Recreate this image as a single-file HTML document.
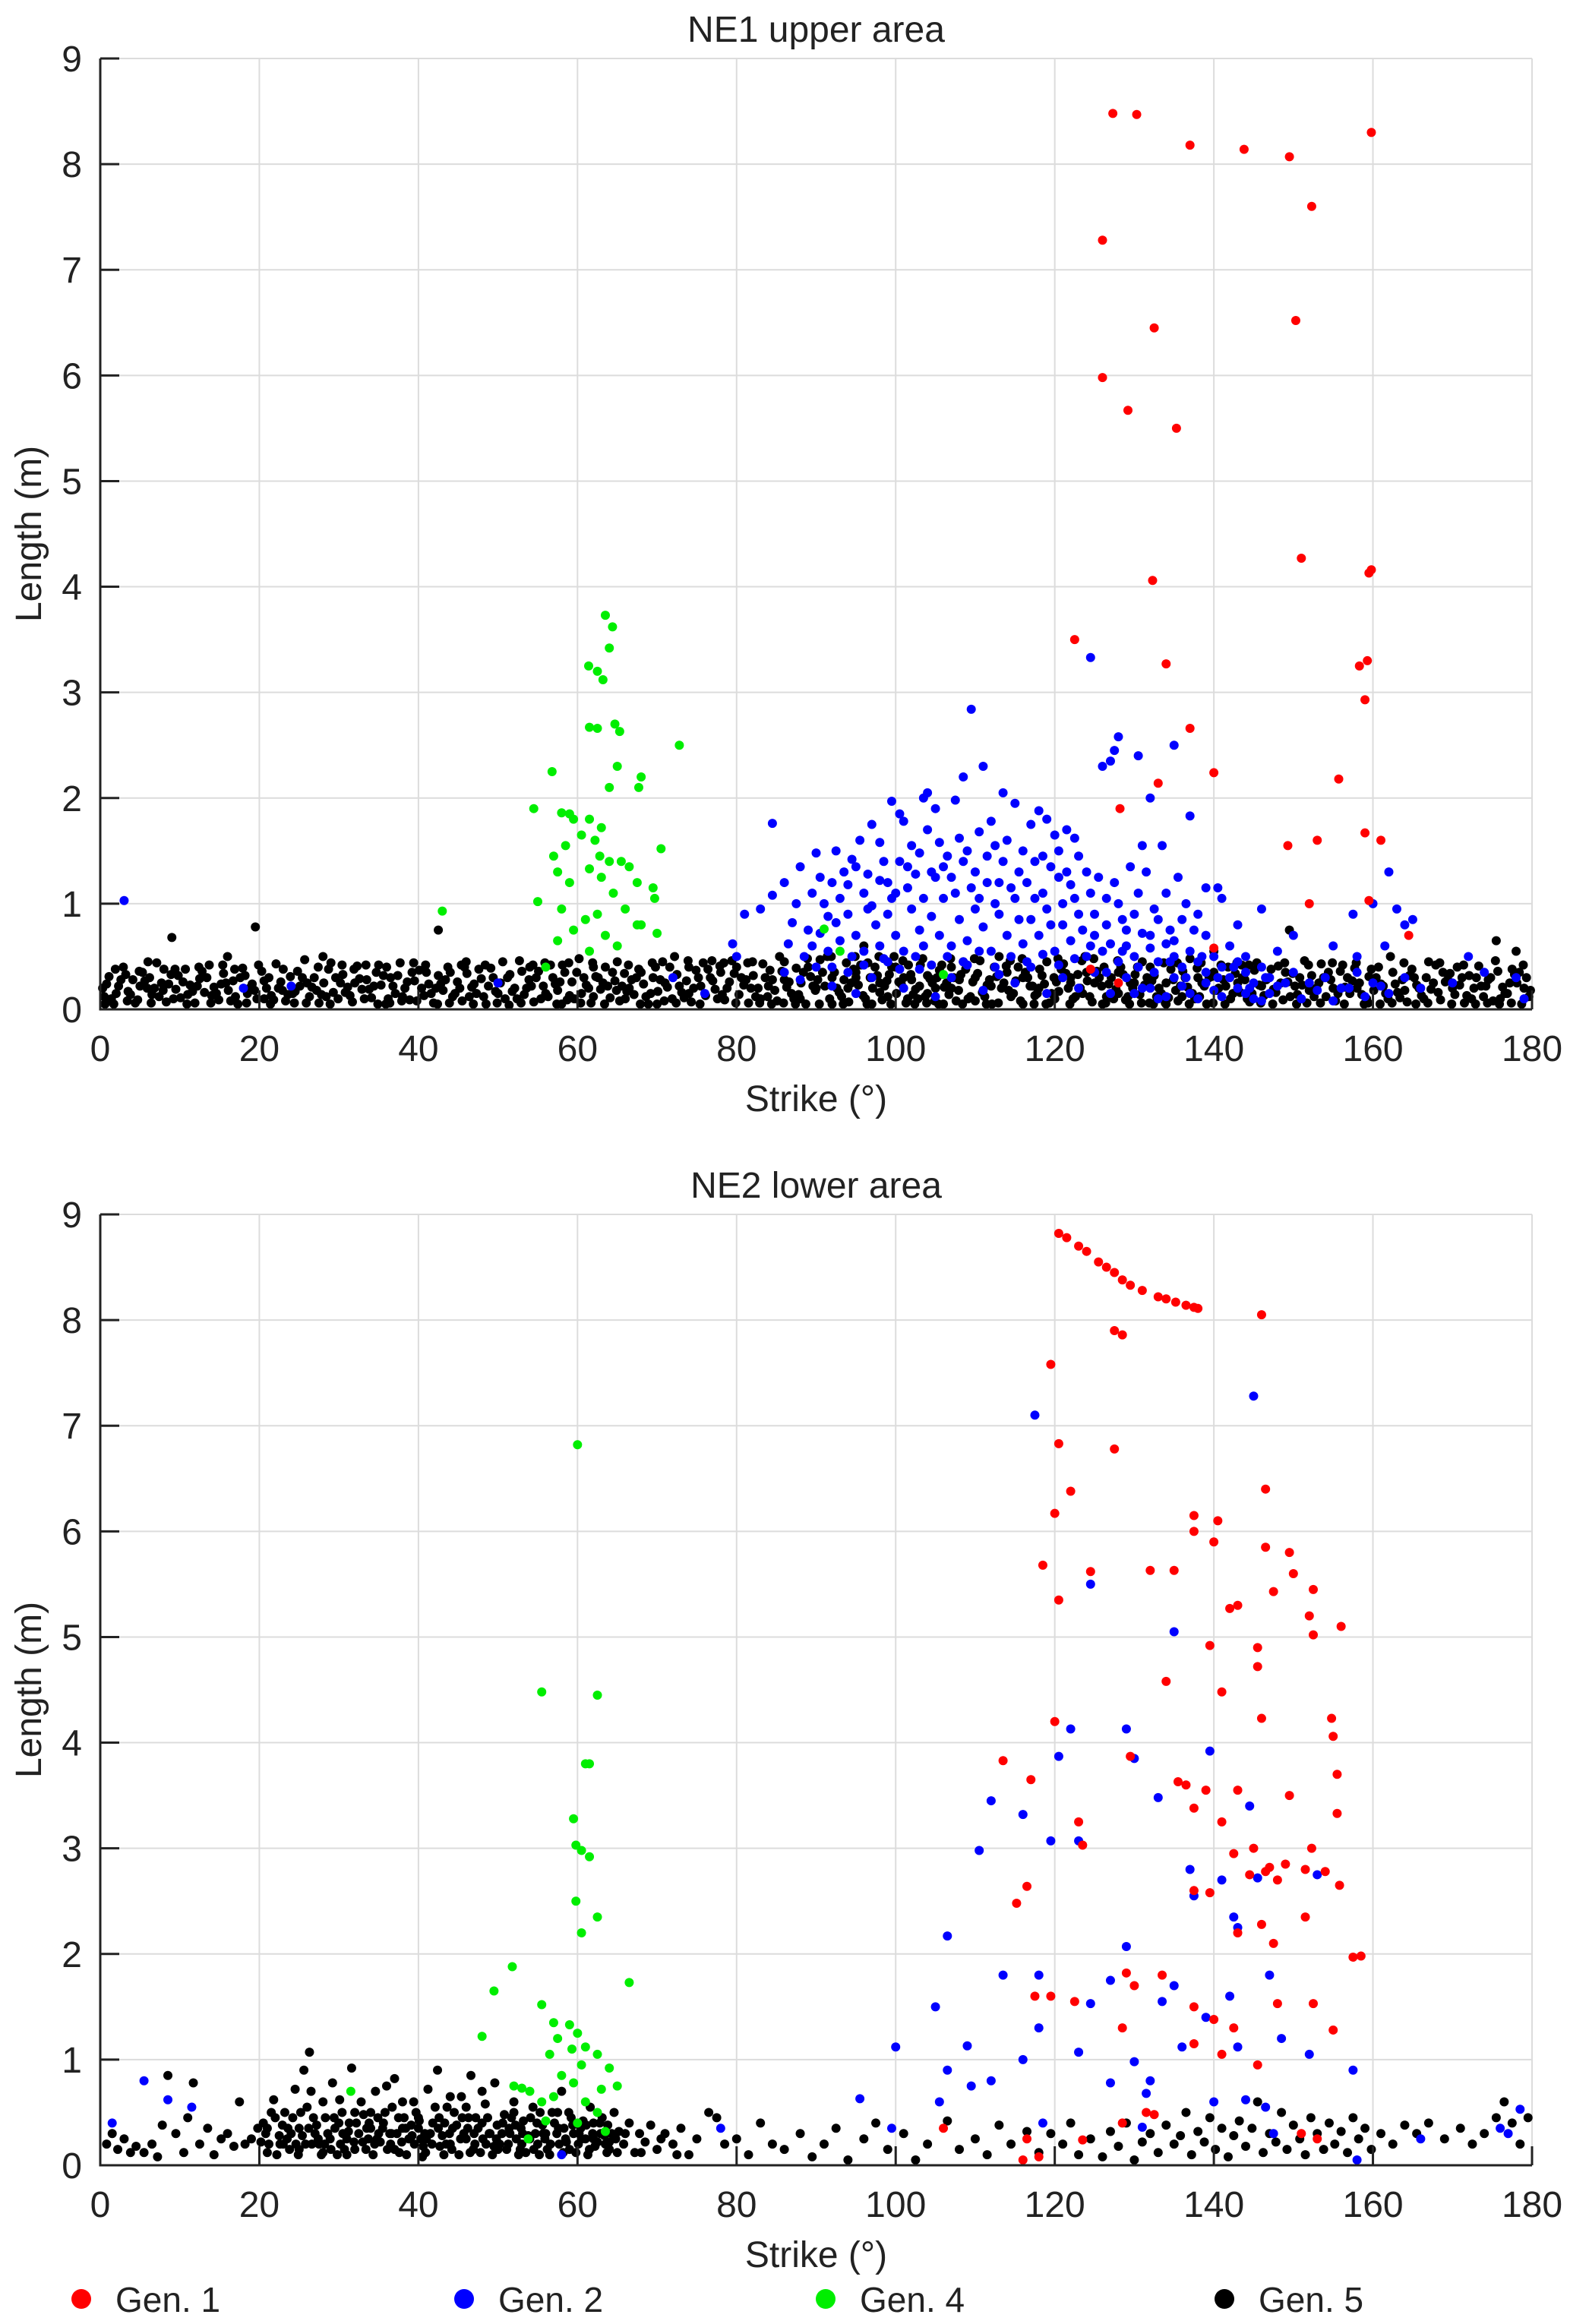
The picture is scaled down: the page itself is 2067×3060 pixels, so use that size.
<!DOCTYPE html>
<html><head><meta charset="utf-8"><style>
html,body{margin:0;padding:0;background:#fff;}
svg{display:block;font-family:"Liberation Sans",sans-serif;}
</style></head><body>
<svg id="fig" width="2067" height="3060" viewBox="0 0 2067 3060" xmlns="http://www.w3.org/2000/svg">
<g id="top"></g>
<g id="bot"></g>
<g id="legend"></g>
</svg>
<script>
const xTicks=[0,20,40,60,80,100,120,140,160,180];
const yTicks=[0,1,2,3,4,5,6,7,8,9];
const titles=["NE1 upper area","NE2 lower area"];
const legendLabels=["Gen. 1","Gen. 2","Gen. 4","Gen. 5"];
const colors=["#ff0000","#0000ff","#00ee00","#000000"];

const topGen1=[[127.3,8.48],[130.3,8.47],[137,8.18],[143.8,8.14],[149.5,8.07],[159.8,8.3],[152.3,7.6],[126,7.28],[150.3,6.52],[132.5,6.45],[126,5.98],[129.2,5.67],[135.3,5.5],[151,4.27],[159.8,4.16],[159.5,4.13],[132.3,4.06],[122.5,3.5],[134,3.27],[159.3,3.3],[158.3,3.25],[159,2.93],[137,2.66],[140,2.24],[155.7,2.18],[133,2.14],[128.2,1.9],[159,1.67],[161,1.6],[153,1.6],[149.3,1.55],[152,1.0],[159.5,1.03],[140,0.58],[164.5,0.7],[124.5,0.38],[128,0.25]];
const topGen4=[[63.5,3.73],[64.4,3.62],[64,3.42],[61.4,3.25],[62.5,3.2],[63.2,3.12],[61.5,2.67],[62.5,2.66],[64.7,2.7],[65.3,2.63],[72.8,2.5],[65,2.3],[68,2.2],[67.7,2.1],[56.8,2.25],[64,2.1],[58,1.86],[54.5,1.9],[59,1.85],[59.5,1.8],[61.5,1.8],[63,1.72],[60.5,1.65],[62.2,1.6],[58.5,1.55],[70.5,1.52],[57,1.45],[65.5,1.4],[62.8,1.45],[64,1.4],[61.5,1.33],[66.5,1.35],[63,1.25],[69.5,1.15],[67.5,1.2],[59,1.2],[55,1.02],[57.5,1.3],[64.5,1.1],[62.5,0.9],[69.7,1.05],[61,0.85],[58,0.95],[66,0.95],[67.5,0.8],[59.5,0.75],[63.5,0.7],[43,0.93],[61.5,0.55],[65,0.6],[57.5,0.65],[56,0.4],[106,0.33],[68,0.8],[70,0.72],[91,0.76],[93,0.55]];
const topGen2=[[3,1.03],[109.5,2.84],[124.5,3.33],[128,2.58],[127.5,2.45],[126,2.3],[127,2.35],[130.5,2.4],[137,1.83],[135,2.5],[132,2.0],[111,2.3],[108.5,2.2],[120,1.65],[104,2.05],[103.5,2.0],[99.5,1.97],[105,1.9],[107.5,1.98],[113.5,2.05],[115,1.95],[118,1.88],[119,1.8],[121.5,1.7],[122.5,1.62],[117,1.75],[112,1.78],[100.5,1.85],[101,1.78],[97,1.75],[95.5,1.6],[98,1.58],[92.5,1.5],[90,1.48],[88,1.35],[86,1.2],[84.5,1.08],[84.5,1.76],[83,0.95],[81,0.9],[79.5,0.62],[80,0.5],[87,0.82],[89,0.75],[91,1.0],[92,1.2],[93.5,1.3],[94.5,1.42],[96.5,1.28],[98.5,1.4],[99,1.2],[100,1.1],[101.5,1.35],[102,1.55],[103,1.48],[104.5,1.3],[105.5,1.58],[106.5,1.45],[107,1.25],[108,1.62],[109,1.5],[110,1.3],[110.5,1.68],[111.5,1.45],[112.5,1.55],[113,1.2],[114,1.6],[115.5,1.3],[116,1.5],[117.5,1.4],[118.5,1.1],[119.5,1.35],[120.5,1.25],[121,1.0],[122,1.18],[123,1.45],[124,1.3],[125,0.9],[126.5,1.05],[127.5,1.2],[128.5,0.85],[129.5,1.35],[130.5,1.1],[131.5,1.3],[132.5,0.95],[133.5,1.55],[134.5,0.75],[135.5,1.25],[136.5,1.0],[138,0.9],[139,0.7],[140.5,1.15],[141,1.05],[143,0.8],[146,0.95],[150,0.7],[157.5,0.9],[160,1.0],[162,1.3],[163,0.95],[164,0.8],[165,0.85],[161.5,0.6],[88.5,0.5],[89.5,0.6],[90.5,0.72],[91.5,0.55],[92.5,0.82],[93,0.65],[94,0.9],[95,0.7],[96,0.55],[96.5,0.95],[97.5,0.8],[98,0.6],[99,0.9],[100,0.7],[101,0.55],[102,0.95],[103,0.75],[103.5,0.6],[104.5,0.88],[105.5,0.7],[106,1.05],[107,0.6],[108,0.85],[109,0.65],[110,0.95],[111,0.78],[112,0.55],[113,0.9],[114,0.7],[115,1.05],[116,0.62],[117,0.85],[118,0.7],[119,0.95],[120,0.55],[121,0.8],[122,0.65],[123,0.9],[124,0.5],[125,0.7],[126,0.55],[127,0.62],[128,0.45],[129,0.6],[130,0.5],[131,0.72],[132,0.58],[133,0.45],[134,0.62],[135,0.5],[136,0.4],[137,0.55],[138,0.45],[139,0.35],[140,0.5],[141,0.4],[142,0.3],[143,0.45],[144,0.35],[145,0.25],[146,0.4],[147,0.3],[148,0.22],[150,0.35],[152,0.25],[154,0.3],[156,0.2],[158,0.35],[160,0.25],[162,0.15],[164,0.3],[166,0.2],[170,0.25],[172,0.5],[174,0.35],[178,0.3],[179,0.1],[86,0.35],[88,0.28],[90,0.4],[92,0.22],[94,0.35],[95,0.15],[97,0.3],[99,0.45],[101,0.2],[103,0.38],[105,0.12],[107,0.3],[109,0.42],[111,0.18],[113,0.33],[115,0.25],[117,0.4],[119,0.15],[121,0.3],[123,0.2],[125,0.35],[127,0.15],[129,0.3],[131,0.2],[133,0.1],[135,0.3],[137,0.15],[139,0.25],[141,0.12],[143,0.2],[145,0.1],[147,0.15],[149,0.25],[151,0.1],[153,0.18],[155,0.08],[157,0.2],[159,0.12],[161,0.22],[18,0.2],[24,0.22],[50,0.25],[72,0.3],[76,0.15],
[86.5,0.62],[87.5,1.0],[89.5,1.1],[90.5,1.25],[91.5,0.88],[93,1.05],[94,1.18],[95,1.35],[96,1.1],[97,0.98],[98,1.22],[99.5,1.05],[100.5,1.4],[101.5,1.15],[102.5,1.28],[103.5,1.05],[104,1.7],[105,1.25],[106,1.35],[107.5,1.1],[108.5,1.4],[109.5,1.15],[110.5,1.05],[111.5,1.2],[112.5,1.0],[113.5,1.4],[114.5,1.15],[115.5,0.85],[116.5,1.2],[117.5,1.05],[118.5,1.45],[119.5,0.8],[120.5,1.5],[121.5,1.3],[122.5,1.05],[123.5,0.75],[124.5,1.1],[125.5,1.25],[126.5,0.8],[128,1.0],[129,0.75],[130,0.9],[131,1.55],[132,0.7],[133,0.85],[134,1.1],[135,0.65],[136,0.85],[137.5,0.75],[139,1.15],[142,0.6],[144,0.5],[148,0.55],[155,0.6],[158,0.5],[92,0.4],[94.5,0.5],[96,0.42],[98.5,0.48],[100.5,0.38],[102.5,0.5],[104.5,0.42],[106.5,0.5],[108.5,0.45],[110.5,0.55],[112.5,0.4],[114.5,0.5],[116.5,0.45],[118.5,0.52],[120.5,0.42],[122.5,0.48],[124.5,0.6],[126.5,0.35],[128.5,0.55],[130.5,0.4],[132.5,0.35],[134.5,0.45],[136.5,0.3],[138.5,0.5],[140.5,0.3],[142.5,0.4],[144.5,0.2],[146.5,0.3],[130,0.15],[132,0.2],[134,0.12],[136,0.22],[138,0.1],[140,0.18],[144,0.15],[146,0.08]];
const topGen5=[[0.5,0.12],[1.1,0.31],[1.7,0.05],[2.3,0.22],[2.9,0.4],[3.5,0.17],[4.1,0.28],[4.7,0.09],[5.3,0.35],[5.9,0.2],[6.5,0.14],[7.1,0.44],[7.7,0.25],[8.3,0.07],[8.9,0.33],[9.5,0.19],[10.1,0.11],[10.7,0.38],[11.3,0.23],[11.9,0.06],[12.5,0.29],[13.1,0.16],[13.7,0.42],[14.3,0.21],[14.9,0.09],[15.5,0.34],[16.1,0.18],[16.7,0.27],[17.3,0.05],[17.9,0.39],[18.5,0.15],[19.1,0.24],[19.7,0.1],[20.3,0.36],[20.9,0.2],[21.5,0.13],[22.1,0.43],[22.7,0.26],[23.3,0.08],[23.9,0.31],[24.5,0.17],[25.1,0.22],[25.7,0.47],[26.3,0.12],[26.9,0.3],[27.5,0.06],[28.1,0.25],[28.7,0.38],[29.3,0.16],[29.9,0.1],[30.5,0.33],[31.1,0.21],[31.7,0.07],[32.3,0.41],[32.9,0.19],[33.5,0.28],[34.1,0.11],[34.7,0.35],[35.3,0.23],[35.9,0.05],[36.5,0.3],[37.1,0.15],[37.7,0.44],[38.3,0.2],[38.9,0.09],[39.5,0.27],[40.1,0.37],[40.7,0.13],[41.3,0.24],[41.9,0.06],[42.5,0.32],[43.1,0.18],[43.7,0.4],[44.3,0.12],[44.9,0.26],[45.5,0.08],[46.1,0.34],[46.7,0.21],[47.3,0.15],[47.9,0.29],[48.5,0.05],[49.1,0.39],[49.7,0.17],[50.3,0.25],[50.9,0.1],[51.5,0.33],[52.1,0.2],[52.7,0.46],[53.3,0.14],[53.9,0.28],[54.5,0.07],[55.1,0.36],[55.7,0.22],[56.3,0.12],[56.9,0.3],[57.5,0.18],[58.1,0.42],[58.7,0.09],[59.3,0.26],[59.9,0.35],[60.5,0.15],[61.1,0.23],[61.7,0.06],[62.3,0.31],[62.9,0.19],[63.5,0.4],[64.1,0.11],[64.7,0.27],[65.3,0.08],[65.9,0.34],[66.5,0.2],[67.1,0.14],[67.7,0.38],[68.3,0.24],[68.9,0.05],[69.5,0.3],[70.1,0.17],[70.7,0.45],[71.3,0.21],[71.9,0.1],[72.5,0.33],[73.1,0.16],[73.7,0.27],[74.3,0.07],[74.9,0.37],[75.5,0.22],[76.1,0.13],[76.7,0.3],[77.3,0.19],[77.9,0.41],[78.5,0.09],[79.1,0.26],[79.7,0.34],[80.3,0.14],[80.9,0.23],[81.5,0.06],[82.1,0.32],[82.7,0.2],[83.3,0.43],[83.9,0.12],[84.5,0.28],[85.1,0.08],[85.7,0.36],[86.3,0.21],[86.9,0.15],[87.5,0.39],[88.1,0.25],[88.7,0.05],[89.3,0.31],[89.9,0.18],[90.5,0.47],[91.1,0.22],[91.7,0.1],[92.3,0.35],[92.9,0.16],[93.5,0.28],[94.1,0.07],[94.7,0.38],[95.3,0.23],[95.9,0.13],[96.5,0.44],[97.1,0.2],[97.7,0.32],[98.3,0.09],[98.9,0.27],[99.5,0.4],[100.1,0.15],[100.7,0.24],[101.3,0.06],[101.9,0.33],[102.5,0.19],[103.1,0.42],[103.7,0.12],[104.3,0.29],[104.9,0.08],[105.5,0.37],[106.1,0.21],[106.7,0.14],[107.3,0.3],[107.9,0.18],[108.5,0.45],[109.1,0.1],[109.7,0.26],[110.3,0.34],[110.9,0.16],[111.5,0.23],[112.1,0.05],[112.7,0.31],[113.3,0.2],[113.9,0.41],[114.5,0.12],[115.1,0.27],[115.7,0.08],[116.3,0.35],[116.9,0.22],[117.5,0.13],[118.1,0.38],[118.7,0.24],[119.3,0.06],[119.9,0.3],[120.5,0.17],[121.1,0.43],[121.7,0.2],[122.3,0.1],[122.9,0.33],[123.5,0.15],[124.1,0.27],[124.7,0.07],[125.3,0.36],[125.9,0.22],[126.5,0.12],[127.1,0.3],[127.7,0.19],[128.3,0.4],[128.9,0.09],[129.5,0.25],[130.1,0.33],[130.7,0.14],[131.3,0.23],[131.9,0.06],[132.5,0.32],[133.1,0.2],[133.7,0.44],[134.3,0.11],[134.9,0.28],[135.5,0.08],[136.1,0.36],[136.7,0.21],[137.3,0.15],[137.9,0.39],[138.5,0.25],[139.1,0.05],[139.7,0.31],[140.3,0.18],[140.9,0.42],[141.5,0.22],[142.1,0.1],[142.7,0.34],[143.3,0.16],[143.9,0.28],[144.5,0.07],[145.1,0.37],[145.7,0.23],[146.3,0.13],[146.9,0.3],[147.5,0.19],[148.1,0.41],[148.7,0.09],[149.3,0.26],[149.9,0.34],[150.5,0.14],[151.1,0.23],[151.7,0.06],[152.3,0.32],[152.9,0.2],[153.5,0.43],[154.1,0.12],[154.7,0.28],[155.3,0.08],[155.9,0.36],[156.5,0.21],[157.1,0.15],[157.7,0.39],[158.3,0.25],[158.9,0.05],[159.5,0.31],[160.1,0.18],[160.7,0.4],[161.3,0.22],[161.9,0.1],[162.5,0.35],[163.1,0.16],[163.7,0.28],[164.3,0.07],[164.9,0.38],[165.5,0.23],[166.1,0.13],[166.7,0.3],[167.3,0.19],[167.9,0.42],[168.5,0.09],[169.1,0.26],[169.7,0.34],[170.3,0.14],[170.9,0.23],[171.5,0.06],[172.1,0.32],[172.7,0.2],[173.3,0.41],[173.9,0.12],[174.5,0.28],[175.1,0.08],[175.7,0.36],[176.3,0.21],[176.9,0.15],[177.5,0.38],[178.1,0.25],[178.7,0.05],[179.3,0.3],[179.8,0.18],
[0.8,0.24],[2.0,0.15],[3.2,0.33],[4.4,0.06],[5.6,0.27],[6.8,0.2],[8.0,0.38],[9.2,0.1],[10.4,0.26],[11.6,0.17],[12.8,0.36],[14.0,0.13],[15.2,0.24],[16.4,0.08],[17.6,0.3],[18.8,0.2],[19.5,0.78],[9.0,0.68],[20.6,0.27],[21.8,0.09],[23.0,0.38],[24.2,0.15],[25.4,0.3],[26.6,0.21],[27.8,0.14],[29.0,0.44],[30.2,0.25],[31.4,0.13],[32.6,0.29],[33.8,0.19],[35.0,0.42],[36.2,0.1],[37.4,0.32],[38.6,0.26],[39.8,0.08],[41.0,0.35],[42.2,0.2],[42.5,0.75],[43.4,0.28],[44.6,0.15],[45.8,0.4],[47.0,0.24],[48.2,0.12],[49.4,0.3],[50.6,0.45],[51.8,0.17],[53.0,0.36],[54.2,0.22],[55.4,0.1],[56.6,0.42],[57.8,0.26],[59.0,0.13],[60.2,0.48],[61.4,0.2],[62.6,0.3],[63.8,0.22],[65.0,0.45],[66.2,0.17],[67.4,0.3],[68.6,0.12],[69.8,0.4],[71.0,0.25],[72.2,0.5],[73.4,0.11],[74.6,0.2],[75.8,0.44],[77.0,0.27],[78.2,0.14],[79.4,0.46],[80.6,0.3],[81.8,0.2],[83.0,0.1],[84.2,0.37],[85.4,0.5],[86.6,0.26],[87.8,0.14],[89.0,0.4],[90.2,0.28],[91.4,0.5],[92.6,0.2],[93.8,0.44],[95.0,0.3],[96.0,0.6],[96.2,0.1],[97.4,0.4],[98.6,0.22],[99.8,0.5],[101.0,0.3],[102.2,0.14],[103.4,0.48],[104.6,0.25],[105.8,0.42],[107.0,0.2],[108.2,0.33],[109.4,0.12],[110.6,0.46],[111.8,0.28],[113.0,0.5],[114.2,0.18],[115.4,0.4],[116.6,0.3],[117.8,0.15],[119.0,0.45],[120.2,0.26],[121.4,0.34],[122.6,0.12],[123.8,0.5],[125.0,0.25],[126.2,0.4],[127.4,0.1],[128.6,0.33],[129.8,0.2],[131.0,0.45],[132.2,0.27],[133.4,0.15],[134.6,0.38],[135.8,0.22],[137.0,0.48],[138.2,0.12],[139.4,0.3],[140.0,0.55],[140.6,0.2],[141.8,0.4],[143.0,0.25],[144.2,0.1],[145.4,0.44],[146.6,0.28],[147.8,0.16],[149.0,0.35],[149.5,0.75],[150.2,0.22],[151.4,0.46],[152.6,0.12],[153.8,0.3],[155.0,0.2],[156.2,0.42],[157.4,0.27],[158.6,0.14],[159.8,0.38],[161.0,0.24],[162.2,0.5],[163.4,0.11],[164.6,0.32],[165.8,0.2],[167.0,0.45],[168.2,0.16],[169.4,0.28],[170.6,0.4],[171.8,0.13],[173.0,0.3],[174.2,0.22],[175.4,0.46],[175.5,0.65],[176.6,0.15],[177.8,0.33],[178,0.55],[179.0,0.2],
[94,0.2],[95,0.35],[97,0.05],[98,0.25],[100,0.4],[101.5,0.1],[103,0.22],[104,0.32],[106,0.05],[108,0.28],[88,0.1],[90,0.2],[92,0.05],[99,0.12],[102,0.28],[105,0.2],[107,0.4],[110,0.08],[112,0.22],[114,0.35],[116,0.05],[118,0.2],[120,0.1],[122,0.25],[124,0.35],[126,0.05],[128,0.15],[130,0.25],[132,0.4],[134,0.05],[136,0.12],[138,0.3],[86,0.45],[84,0.22],[82,0.45],[78,0.35],[74,0.4],[70,0.05],[66,0.1],[62,0.4],[58,0.05],[54,0.4],[46,0.45],[36,0.4],[28,0.5],[16,0.5],[6,0.45],[143.5,0.42],
[0.3,0.2],[1.4,0.1],[2.6,0.28],[3.8,0.14],[5,0.22],[6.2,0.3],[7.4,0.12],[8.6,0.24],[9.8,0.32],[11,0.14],[12.2,0.22],[13.4,0.3],[14.6,0.15],[15.8,0.25],[17,0.12],[18.2,0.32],[19.4,0.18],[20.6,0.1],[21.2,0.3],[22.4,0.2],[23.6,0.14],[24.8,0.36],[26,0.25],[27.2,0.18],[28.4,0.12],[29.6,0.3],[30.8,0.16],[32,0.25],[33.2,0.1],[34.4,0.22],[35.6,0.32],[36.8,0.22],[38,0.12],[39.2,0.35],[40.4,0.2],[41.6,0.15],[42.8,0.24],[44,0.35],[45.2,0.2],[46.4,0.12],[47.6,0.38],[48.8,0.22],[50,0.15],[51.2,0.3],[52.4,0.1],[53.6,0.2],[54.8,0.3],[56,0.15],[57.2,0.24],[58.4,0.35],[59.6,0.1],[60.8,0.3],[62,0.12],[63.2,0.25],[64.4,0.35],[65.6,0.22],[66.8,0.28],[68,0.35],[69.2,0.15],[70.4,0.28],[71.6,0.4],[72.8,0.22],[74,0.15],[75.2,0.3],[76.4,0.38],[77.6,0.1],[78.8,0.2],[80,0.4],[81.2,0.28],[82.4,0.12],[83.6,0.3],[84.8,0.18],[86,0.28],[87.2,0.1],[88.4,0.35],[89.6,0.22],[90.8,0.35],[92,0.3],[93.2,0.12],[94.4,0.25],[95.6,0.42],[96.8,0.3],[98,0.16],[99.2,0.33],[100.4,0.26],[101.6,0.42],[102.8,0.1],[104,0.15],[105.2,0.3],[106.4,0.25],[107.6,0.08],[108.8,0.38],[110,0.3],[111.2,0.12],[112.4,0.4],[113.6,0.25],[114.8,0.15],[116,0.3],[117.2,0.22],[118.4,0.32],[119.6,0.15],[120.8,0.38],[122,0.3],[123.2,0.2],[124.4,0.12],[125.6,0.3],[126.8,0.24],[128,0.35],[129.2,0.12],[130.4,0.4],[131.6,0.3],[132.8,0.12],[134,0.25],[135.2,0.18],[136.4,0.3],[137.6,0.1],[138.8,0.22],[140,0.35],[141.2,0.28],[142.4,0.15],[143.6,0.3],[144.8,0.15],[146,0.22],[147.2,0.38],[148.4,0.25],[149.6,0.12],[150.8,0.3],[152,0.18],[153.2,0.25],[154.4,0.35],[155.6,0.15],[156.8,0.3],[158,0.2],[159.2,0.1],[160.4,0.3],[161.6,0.15],[162.8,0.24],[164,0.18],[165.2,0.3],[166.4,0.1],[167.6,0.25],[168.8,0.35],[170,0.2],[171.2,0.3],[172.4,0.1],[173.6,0.22],[174.8,0.3],[176,0.1],[177.2,0.25],[178.4,0.35],[179.6,0.12],
[0.6,0.05],[1.9,0.38],[3.4,0.08],[4.9,0.36],[6.4,0.06],[7.9,0.18],[9.4,0.38],[10.9,0.05],[12.4,0.4],[13.9,0.06],[15.4,0.42],[16.9,0.38],[18.4,0.06],[19.9,0.42],[21.4,0.05],[22.9,0.18],[24.4,0.06],[25.9,0.06],[27.4,0.4],[28.9,0.05],[30.4,0.42],[31.9,0.38],[33.4,0.42],[34.9,0.05],[36.4,0.06],[37.9,0.08],[39.4,0.44],[40.9,0.42],[42.4,0.05],[43.9,0.06],[45.4,0.42],[46.9,0.05],[48.4,0.42],[49.9,0.06],[51.4,0.04],[52.9,0.06],[54.4,0.42],[55.9,0.44],[57.4,0.05],[58.9,0.44],[60.4,0.06],[61.9,0.44],[63.4,0.05],[64.9,0.18],[66.4,0.42],[67.9,0.05],[69.4,0.44],[70.9,0.08],[72.4,0.06],[73.9,0.46],[75.4,0.05],[76.9,0.46],[78.4,0.44],[79.9,0.06],[81.4,0.44],[82.9,0.06],[84.4,0.05],[85.9,0.06],[87.4,0.05],[88.9,0.48],[90.4,0.05],[91.9,0.5],[93.4,0.05],[94.9,0.5],[96.4,0.05],[97.9,0.5],[99.4,0.05],[100.9,0.46],[102.4,0.05],[103.9,0.06],[105.4,0.05],[106.9,0.48],[108.4,0.05],[109.9,0.48],[111.4,0.05],[112.9,0.06],[114.4,0.46],[115.9,0.48],[117.4,0.05],[118.9,0.05],[120.4,0.48],[121.9,0.05],[123.4,0.46],[124.9,0.48],[126.4,0.06],[127.9,0.46],[129.4,0.05],[130.9,0.06],[132.4,0.05],[133.9,0.06],[135.4,0.44],[136.9,0.05],[138.4,0.44],[139.9,0.06],[141.4,0.05],[142.9,0.44],[144.4,0.42],[145.9,0.06],[147.4,0.05],[148.9,0.44],[150.4,0.05],[151.9,0.42],[153.4,0.06],[154.9,0.44],[156.4,0.05],[157.9,0.44],[159.4,0.06],[160.9,0.05],[162.4,0.06],[163.9,0.44],[165.4,0.05],[166.9,0.06],[168.4,0.44],[169.9,0.05],[171.4,0.42],[172.9,0.05],[174.4,0.06],[175.9,0.05],[177.4,0.06],[178.9,0.42]];

const botGen1=[[120.5,8.82],[121.5,8.78],[123,8.7],[124,8.65],[125.5,8.55],[126.5,8.5],[127.5,8.45],[128.5,8.38],[129.5,8.33],[131,8.28],[133,8.22],[134,8.2],[135.2,8.17],[136.5,8.14],[137.5,8.12],[138,8.11],[146,8.05],[127.5,7.9],[128.5,7.86],[119.5,7.58],[120.5,6.83],[127.5,6.78],[122,6.38],[146.5,6.4],[120,6.17],[137.5,6.15],[140.5,6.1],[137.5,6.0],[140,5.9],[149.5,5.8],[146.5,5.85],[118.5,5.68],[124.5,5.62],[132,5.63],[135,5.63],[150,5.6],[152.5,5.45],[147.5,5.43],[120.5,5.35],[143,5.3],[142,5.27],[152,5.2],[156,5.1],[152.5,5.02],[139.5,4.92],[145.5,4.9],[145.5,4.72],[141,4.48],[134,4.58],[120,4.2],[146,4.23],[154.8,4.23],[155,4.06],[129.5,3.87],[113.5,3.83],[155.5,3.7],[117,3.65],[135.5,3.63],[136.5,3.6],[139,3.55],[143,3.55],[149.5,3.5],[137.5,3.38],[141,3.25],[155.5,3.33],[123,3.25],[123.5,3.03],[145,3.0],[152.3,3.0],[142.5,2.95],[149,2.85],[147,2.82],[151.5,2.8],[154,2.78],[144.5,2.75],[146.5,2.78],[148,2.7],[155.8,2.65],[116.5,2.64],[115.2,2.48],[137.5,2.6],[139.5,2.58],[151.5,2.35],[146,2.28],[143,2.2],[147.5,2.1],[157.5,1.97],[158.5,1.98],[133.5,1.8],[129,1.82],[117.5,1.6],[119.5,1.6],[130,1.7],[137.5,1.5],[148,1.53],[152.5,1.53],[155,1.28],[140,1.38],[142.5,1.3],[141,1.05],[145.5,0.95],[137.5,1.15],[122.5,1.55],[128.5,1.3],[131.5,0.5],[128.5,0.4],[116.5,0.25],[106,0.35],[116,0.05],[118,0.08],[153,0.25],[151,0.3],[123.5,0.24],[132.5,0.48]];
const botGen2=[[145,7.28],[117.5,7.1],[124.5,5.5],[135,5.05],[122,4.13],[129,4.13],[139.5,3.92],[120.5,3.87],[130,3.85],[112,3.45],[133,3.48],[110.5,2.98],[116,3.32],[119.5,3.07],[123,3.07],[153,2.75],[144.5,3.4],[137,2.8],[137.5,2.55],[141,2.7],[142.5,2.35],[143,2.25],[145.5,2.72],[106.5,2.17],[129,2.07],[127,1.75],[113.5,1.8],[118,1.8],[135,1.7],[147,1.8],[133.5,1.55],[105,1.5],[124.5,1.53],[142,1.6],[139,1.4],[116,1.0],[106.5,0.9],[100,1.12],[109,1.13],[109.5,0.75],[123,1.07],[127,0.78],[130,0.98],[131.5,0.68],[136,1.12],[148.5,1.2],[152,1.05],[143,1.12],[157.5,0.9],[105.5,0.6],[95.5,0.63],[118,1.3],[144,0.62],[146.5,0.55],[140,0.6],[132,0.8],[147.5,0.3],[158,0.05],[178.5,0.53],[177,0.3],[176,0.35],[166,0.25],[1.5,0.4],[5.5,0.8],[8.5,0.62],[11.5,0.55],[58,0.1],[78,0.35],[99.5,0.35],[112,0.8],[131,0.36],[118.5,0.4]];
const botGen4=[[60,6.82],[55.5,4.48],[62.5,4.45],[61,3.8],[61.5,3.8],[59.5,3.28],[59.8,3.03],[60.5,2.98],[61.5,2.92],[59.8,2.5],[62.5,2.35],[60.5,2.2],[66.5,1.73],[51.8,1.88],[49.5,1.65],[55.5,1.52],[57,1.35],[59,1.33],[60,1.25],[57.5,1.2],[59.3,1.1],[61,1.12],[62.5,1.05],[48,1.22],[56.5,1.05],[60.5,0.95],[64,0.92],[58,0.85],[59.5,0.78],[63,0.72],[52,0.75],[53,0.73],[54,0.7],[55.5,0.6],[57,0.65],[61,0.6],[62.5,0.5],[56,0.42],[60,0.4],[63.5,0.32],[53.8,0.25],[31.5,0.7],[65,0.75]];
const botGen5=[[0.8,0.2],[1.5,0.3],[2.2,0.15],[3,0.25],[3.8,0.12],[4.5,0.18],[5.5,0.12],[6.5,0.2],[7.2,0.08],[7.8,0.38],[8.5,0.85],[9.5,0.3],[10.5,0.12],[11,0.45],[11.7,0.78],[12.5,0.2],[13.5,0.35],[14.3,0.1],[15.2,0.25],[16,0.3],[16.8,0.18],[17.5,0.6],[18.2,0.2],[19,0.25],[19.8,0.35],[20.5,0.4],[21,0.12],[21.8,0.62],[22.5,0.28],[23.2,0.5],[23.8,0.15],[24.5,0.72],[25,0.35],[25.6,0.9],[26.3,1.07],[26.8,0.45],[27.5,0.2],[28,0.6],[28.6,0.3],[29.2,0.78],[29.8,0.1],[30.4,0.5],[31,0.25],[31.6,0.92],[32.2,0.4],[32.8,0.6],[33.4,0.15],[34,0.35],[34.6,0.7],[35.2,0.22],[35.8,0.5],[36.4,0.3],[37,0.82],[37.6,0.12],[38.2,0.45],[38.8,0.25],[39.4,0.6],[40,0.35],[40.6,0.18],[41.2,0.72],[41.8,0.4],[42.4,0.9],[43,0.28],[43.6,0.55],[44.2,0.15],[44.8,0.38],[45.4,0.65],[46,0.25],[46.6,0.85],[47.2,0.45],[47.8,0.12],[48.4,0.58],[49,0.3],[49.6,0.78],[50.2,0.2],[50.8,0.48],[51.4,0.35],[52,0.6],[52.6,0.1],[53.2,0.42],[53.8,0.28],[54.4,0.55],[55,0.2],[55.6,0.38],[56.2,0.15],[56.8,0.5],[57.4,0.3],[58,0.7],[58.6,0.22],[59.2,0.45],[59.8,0.12],[60.4,0.35],[61,0.25],[61.6,0.55],[62.2,0.18],[62.8,0.4],[63.4,0.28],[64,0.15],[64.6,0.5],[65.2,0.32],[65.8,0.2],[66.5,0.4],[67.2,0.12],[67.8,0.3],[68.5,0.22],[69.2,0.38],[70,0.15],[71,0.3],[72,0.2],[73,0.35],[74,0.1],[75,0.25],[76.5,0.5],[77.5,0.45],[78.5,0.2],[80,0.25],[81.5,0.1],[83,0.4],[84.5,0.2],[86,0.15],[88,0.3],[89.5,0.08],[91,0.2],[92.5,0.35],[94,0.05],[96,0.25],[97.5,0.4],[99,0.15],[101,0.3],[102.5,0.05],[104,0.2],[106.5,0.42],[108,0.15],[110,0.25],[111.5,0.1],[113,0.38],[114.5,0.2],[116.5,0.32],[118,0.12],[119.5,0.3],[121,0.2],[122,0.4],[123,0.1],[124.5,0.25],[126,0.08],[127,0.32],[128,0.18],[129,0.4],[130,0.05],[131,0.22],[132,0.3],[133,0.12],[134,0.38],[135,0.2],[135.8,0.28],[136.5,0.5],[137.2,0.1],[138,0.32],[138.8,0.22],[139.5,0.45],[140.2,0.15],[141,0.35],[141.8,0.08],[142.5,0.28],[143.2,0.42],[144,0.18],[144.8,0.35],[145.5,0.6],[146.2,0.12],[147,0.3],[147.8,0.22],[148.5,0.5],[149.2,0.15],[150,0.38],[150.8,0.25],[151.5,0.1],[152.2,0.45],[153,0.3],[153.8,0.15],[154.5,0.4],[155.2,0.2],[156,0.32],[156.8,0.12],[157.5,0.45],[158.2,0.25],[159,0.35],[159.8,0.15],[161,0.3],[162.5,0.2],[164,0.38],[165.5,0.3],[167,0.4],[169,0.25],[171,0.35],[172.5,0.2],[174,0.3],[175.5,0.45],[176.5,0.6],[177.5,0.4],[178.5,0.2],[179.5,0.45],
[20.8,0.3],[21.5,0.5],[22.2,0.1],[22.9,0.38],[23.5,0.25],[24.2,0.45],[24.9,0.1],[25.4,0.28],[26,0.55],[26.6,0.2],[27.2,0.38],[27.8,0.1],[28.3,0.45],[28.9,0.25],[29.5,0.35],[30.1,0.62],[30.7,0.15],[31.3,0.4],[31.9,0.22],[32.5,0.3],[33.1,0.48],[33.7,0.25],[34.3,0.1],[34.9,0.45],[35.5,0.35],[36.1,0.15],[36.7,0.55],[37.3,0.3],[37.9,0.22],[38.5,0.1],[39.1,0.38],[39.7,0.5],[40.3,0.25],[40.9,0.12],[41.5,0.3],[42.1,0.55],[42.7,0.18],[43.3,0.4],[43.9,0.3],[44.5,0.5],[45.1,0.1],[45.7,0.3],[46.3,0.45],[46.9,0.15],[47.5,0.35],[48.1,0.25],[48.7,0.45],[49.3,0.1],[49.9,0.38],[50.5,0.3],[51.1,0.15],[51.7,0.45],[52.3,0.25],[52.9,0.35],[53.5,0.12],[54.1,0.45],[54.7,0.3],[55.3,0.5],[55.9,0.25],[56.5,0.1],[57.1,0.4],[57.7,0.2],[58.3,0.35],[58.9,0.5],[59.5,0.3],[60.1,0.2],[60.7,0.42],[61.3,0.1],[61.9,0.3],[62.5,0.22],[63.1,0.45],[63.7,0.12],[64.3,0.3],[21.2,0.2],[22.6,0.2],[24,0.3],[25.8,0.2],[27,0.3],[29,0.15],[30.5,0.3],[32,0.15],[33.5,0.35],[35,0.3],[36.5,0.2],[38,0.35],[39.5,0.2],[41,0.25],[42.5,0.35],[44,0.2],[45.5,0.45],[47,0.3],[48.5,0.2],[50,0.15],[51.5,0.3],[53,0.2],[54.5,0.15],[56,0.3],[57.5,0.5],[59,0.15],[60.5,0.25],[62,0.4],[63.5,0.2],[65,0.12],[30,0.4],[34,0.5],[38,0.6],[44,0.65],[48,0.7],[52,0.5],[40,0.45],[26.5,0.7],[36,0.75],[46,0.55],
[20.2,0.22],[21,0.35],[22,0.45],[23,0.2],[23.6,0.35],[24.6,0.2],[25.2,0.5],[26.2,0.35],[27.4,0.25],[28.2,0.2],[29.4,0.45],[30.2,0.2],[31.2,0.32],[32,0.5],[33,0.22],[33.8,0.4],[34.8,0.25],[35.6,0.4],[36.6,0.3],[37.5,0.45],[38.4,0.35],[39.2,0.28],[40.1,0.42],[40.8,0.3],[41.7,0.2],[42.6,0.45],[43.5,0.2],[44.3,0.35],[45.3,0.25],[46.2,0.35],[47.1,0.2],[48,0.4],[48.9,0.3],[49.8,0.25],[50.6,0.4],[51.3,0.2],[52.2,0.38],[53.1,0.3],[54,0.25],[54.9,0.4],[55.7,0.3],[56.6,0.2],[57.6,0.35],[58.5,0.25],[59.4,0.38],[60.2,0.3],[61.1,0.38],[62,0.25],[62.9,0.3],[63.8,0.38],[64.8,0.25],[66,0.3],[68,0.12],[70.5,0.25],[72.5,0.1],[25,0.15],[28,0.12],[31,0.1],[34.5,0.2],[37,0.15],[40.5,0.08],[43.2,0.1],[46.5,0.12],[49.5,0.18],[52.8,0.15],[55.2,0.1],[58.2,0.12],[61.5,0.15],[64,0.22]];

const L=132,R=2017,xMax=180,yMax=9,H=1252;
const panels=[{g:'top',top:77,sets:[topGen5,topGen2,topGen4,topGen1]},{g:'bot',top:1599,sets:[botGen5,botGen4,botGen2,botGen1]}];
const setColors=[[3,1,2,0],[3,2,1,0]];
const NS='http://www.w3.org/2000/svg';
function el(tag,attrs,parent){const e=document.createElementNS(NS,tag);for(const k in attrs)e.setAttribute(k,attrs[k]);parent.appendChild(e);return e;}
function xs(v){return L+v/xMax*(R-L);}
panels.forEach((p,pi)=>{
  const g=document.getElementById(p.g);
  const bottom=p.top+H;
  const ys=v=>bottom-v/yMax*H;
  xTicks.forEach(t=>{if(t>0){const l=el('line',{x1:xs(t),x2:xs(t),y1:p.top,y2:bottom,stroke:'#dcdcdc','stroke-width':2},g);
    
    }});
  yTicks.forEach(t=>{if(t>0){const l=el('line',{x1:L,x2:R,y1:ys(t),y2:ys(t),stroke:'#dcdcdc','stroke-width':2},g);
    
    }});
  p.sets.forEach((s,si)=>{
    const c=colors[setColors[pi][si]];
    s.forEach(d=>{const m=el('circle',{cx:xs(d[0]),cy:ys(d[1]),r:6,fill:c},g);
      
      });
  });
  const ax=el('path',{d:`M${L},${p.top}V${bottom}H${R}`,fill:'none',stroke:'#222','stroke-width':3},g);
  
  
  xTicks.forEach(t=>{
    const tk=el('line',{x1:xs(t),x2:xs(t),y1:bottom,y2:bottom-25,stroke:'#222','stroke-width':3},g);
    
    
    const tl=el('text',{x:xs(t),y:bottom+68,'text-anchor':'middle','font-size':48,fill:'#222'},g);
    tl.textContent=t;
    
    
  });
  yTicks.forEach(t=>{
    const tk=el('line',{x1:L,x2:L+25,y1:ys(t),y2:ys(t),stroke:'#222','stroke-width':3},g);
    
    
    const tl=el('text',{x:L-24,y:ys(t)+17,'text-anchor':'end','font-size':48,fill:'#222'},g);
    tl.textContent=t;
    
    
  });
  const ti=el('text',{x:(L+R)/2,y:p.top-22,'text-anchor':'middle','font-size':48,fill:'#222'},g);
  ti.textContent=titles[pi];
  
  
  const xl=el('text',{x:(L+R)/2,y:bottom+134,'text-anchor':'middle','font-size':48,fill:'#222'},g);
  xl.textContent='Strike (°)';
  
  
  const cy=(p.top+bottom)/2;
  const yl=el('text',{x:54,y:cy,'text-anchor':'middle','font-size':48,fill:'#222',transform:`rotate(-90 54 ${cy})`},g);
  yl.textContent='Length (m)';
  
  
});
const lg=document.getElementById('legend');
const lgX=[107,611,1087,1612];
legendLabels.forEach((lab,i)=>{
  const m=el('circle',{cx:lgX[i],cy:3027,r:13,fill:colors[i]},lg);
  
  
  const t=el('text',{x:lgX[i]+45,y:3044,'font-size':46,fill:'#222'},lg);
  t.textContent=lab;
  
  
});
</script>
</body></html>
